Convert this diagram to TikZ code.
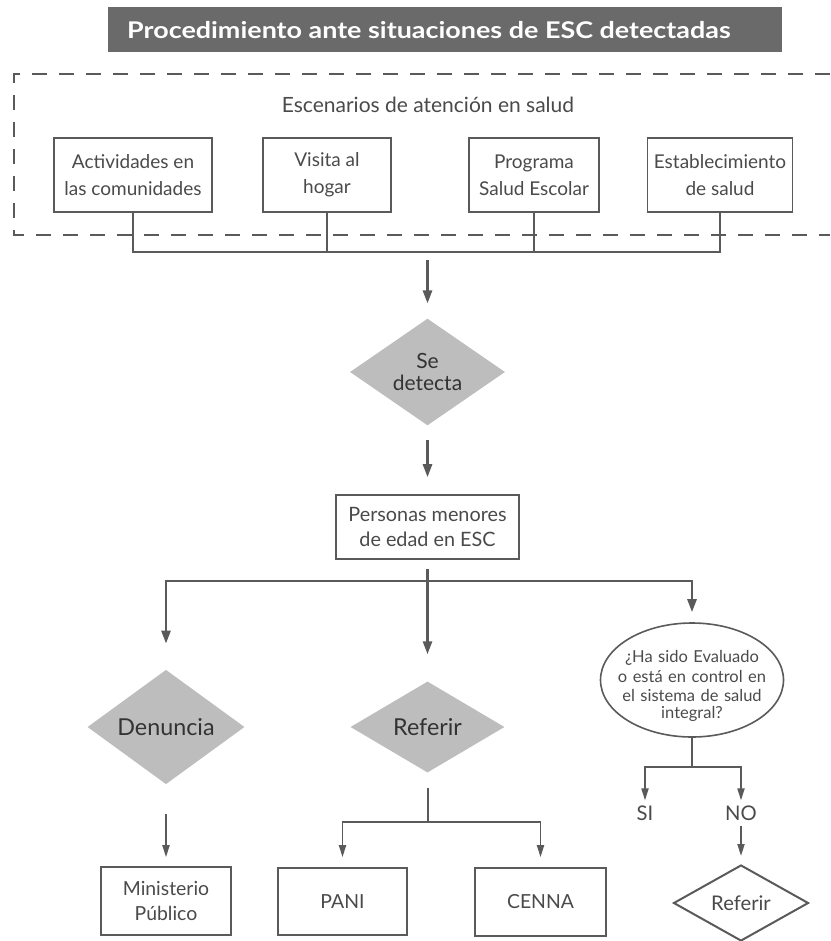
\documentclass[tikz,border=0pt]{standalone}
\usepackage{fontspec}
\setmainfont{Lato}
\newfontfamily\titlefont[FakeStretch=1.17]{Lato}
\usetikzlibrary{shapes.geometric,arrows.meta}
\definecolor{ink}{HTML}{4A4A4A}
\definecolor{darkink}{HTML}{333333}
\definecolor{linec}{HTML}{5A5A5A}
\definecolor{barc}{HTML}{6A6A6A}
\definecolor{diafill}{HTML}{BDBDBD}
\begin{document}
\begin{tikzpicture}[x=1pt,y=-1pt,
  every node/.style={text=ink},
  box/.style={draw=linec, line width=1.6pt, rectangle, align=center, inner sep=0pt},
  gdia/.style={diamond, fill=diafill, inner sep=0pt, align=center, text=darkink},
  qline/.style={anchor=center, inner sep=0pt, text width=200pt, align=center, font=\fontsize{16.5}{18.5}\selectfont},
  thinline/.style={draw=linec, line width=1.2pt},
  midline/.style={draw=linec, line width=2pt},
  bigarrow/.style={draw=linec, line width=2.6pt, -{Triangle[length=13pt,width=9pt]}},
  smallarrow/.style={draw=linec, line width=1.8pt, -{Triangle[length=12pt,width=7pt]}},
]
\useasboundingbox (0,0) rectangle (830,941);

% title bar
\node[fill=barc, minimum width=674pt, minimum height=45pt, anchor=north west, inner sep=0pt] (bar) at (108,7) {};
\node[anchor=west, text=white, inner sep=0pt, font=\titlefont\bfseries\fontsize{23}{26}\selectfont] (ttl) at (127,30) {Procedimiento ante situaciones de ESC detectadas};

% dashed frame
\draw[linec, line width=1.4pt, dash pattern=on 15pt off 12pt] (830,74) -- (14,74) -- (14,235) -- (830,235);

\node[font=\fontsize{21}{26}\selectfont] (esc) at (428,105) {Escenarios de atención en salud};

\begin{scope}[every node/.append style={font=\fontsize{19}{27}\selectfont}]
\node[box, minimum width=158pt, minimum height=74pt] (b1) at (133,175) {Actividades en\\las comunidades};
\node[box, minimum width=128pt, minimum height=74pt] (b2) at (327,175) {Visita al\\hogar};
\node[box, minimum width=130pt, minimum height=74pt] (b3) at (534,175) {Programa\\Salud Escolar};
\node[box, minimum width=145pt, minimum height=74pt] (b4) at (720,175) {Establecimiento\\de salud};
\end{scope}

\coordinate (jl) at (133,252);
\coordinate (jm) at (427.5,252);
\coordinate (jr) at (720,252);
\draw[thinline] (b1.south) -- (jl) -- (jr) -- (b4.south);
\draw[thinline] (b2.south) -- (b2.south |- jl);
\draw[thinline] (b3.south) -- (b3.south |- jl);

% Se detecta
\node[gdia, minimum width=155pt, minimum height=91pt, font=\fontsize{21}{22}\selectfont] (sed) at (427.5,372) {Se\\detecta};
\draw[bigarrow, shorten <=8pt, shorten >=15pt] (jm) -- (sed.north);

% Personas menores
\node[box, minimum width=183pt, minimum height=64pt, font=\fontsize{19.8}{25}\selectfont] (pm) at (427.5,527) {Personas menores\\de edad en ESC};
\draw[bigarrow, shorten <=14pt, shorten >=17pt] (sed.south) -- (pm.north);

% three branches
\node[gdia, minimum width=157pt, minimum height=92pt, font=\fontsize{23.3}{26}\selectfont] (den) at (166,727) {Denuncia};
\node[gdia, minimum width=154pt, minimum height=91pt, font=\fontsize{23.3}{26}\selectfont] (ref) at (427.5,727) {Referir};
\node[ellipse, draw=linec, line width=1.6pt, minimum width=183pt, minimum height=114pt, inner sep=0pt] (q) at (692,680) {};
\node[qline] (q1) at (692,658) {¿Ha sido Evaluado};
\node[qline] (q2) at (692,676.5) {o está en control en};
\node[qline] (q3) at (692,695) {el sistema de salud};
\node[qline] (q4) at (692,713.5) {integral?};

\coordinate (h) at (427.5,581);
\draw[bigarrow, shorten <=9pt, shorten >=27pt] (pm.south) -- (ref.north);
\draw[bigarrow, shorten >=26pt] (h) -| (den.north);
\draw[bigarrow, shorten >=10pt] (h) -| (q.north);

% bottom boxes
\begin{scope}[every node/.append style={font=\fontsize{19.4}{25}\selectfont}]
\node[box, minimum width=130pt, minimum height=68pt] (mp) at (166,901) {Ministerio\\Público};
\node[box, minimum width=129pt, minimum height=67pt] (pani) at (342.5,901.5) {PANI};
\node[box, minimum width=131pt, minimum height=68pt] (cenna) at (540.5,902) {CENNA};
\end{scope}

\draw[smallarrow, shorten <=30pt, shorten >=9pt] (den.south) -- (mp.north);

\coordinate (rj) at (427.5,822);
\draw[midline, shorten <=15pt] (ref.south) -- (rj);
\draw[smallarrow, shorten >=10pt] (rj) -| (pani.north);
\draw[smallarrow, shorten >=10pt] (rj) -| (cenna.north);

% SI / NO
\node[font=\fontsize{20.2}{24}\selectfont, inner sep=0pt] (si) at (645,813) {SI};
\node[font=\fontsize{20.2}{24}\selectfont, inner sep=0pt] (no) at (741,813) {NO};
\coordinate (qj) at (692,767);
\draw[midline] (q.south) -- (qj);
\draw[smallarrow, shorten >=5pt] (qj) -| (si.north);
\draw[smallarrow, shorten >=5pt] (qj) -| (no.north);

\node[diamond, draw=linec, line width=2pt, fill=white, minimum width=135pt, minimum height=76pt, inner sep=0pt, font=\fontsize{20.2}{24}\selectfont] (r2) at (741,903) {Referir};
\draw[smallarrow, shorten <=5pt, shorten >=8pt] (no.south) -- (r2.north);
\end{tikzpicture}
\end{document}
